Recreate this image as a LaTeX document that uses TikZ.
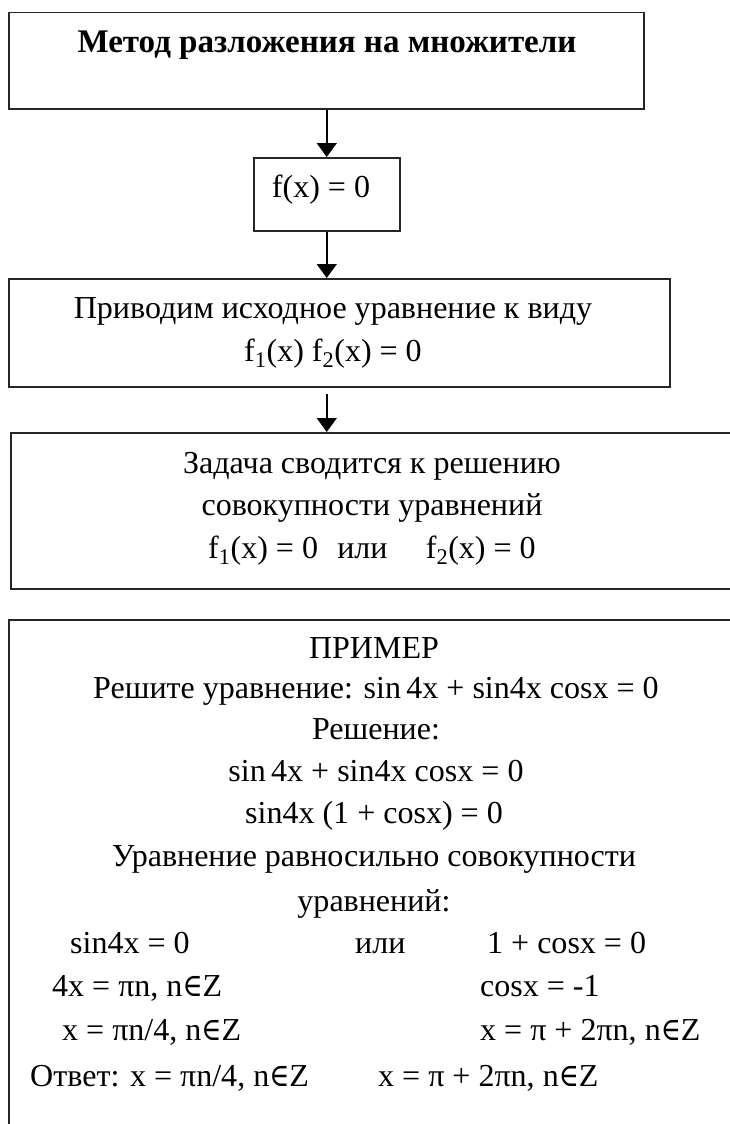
\documentclass[tikz,border=0pt]{standalone}
\usepackage{fontspec}
\setmainfont{Liberation Serif}[FakeStretch=1.001]
\newfontfamily\symf{DejaVu Serif}[FakeStretch=0.85]
\newcommand{\inZ}{{\symf\char"2208}Z}
\usetikzlibrary{arrows.meta}
\begin{document}
\begin{tikzpicture}[x=1pt,y=-1pt,
 box/.style={draw=black!85, line width=1.5pt, inner sep=0, anchor=north west},
 txt/.style={inner sep=0, text height=22pt, text depth=7pt, font=\fontsize{32}{38}\selectfont},
 txtw/.style={txt, anchor=west},
 arr/.style={line width=1.5pt, -{Triangle[width=20pt,length=14pt]}}]
\useasboundingbox (0,0) rectangle (730,1124);
\clip (0,0) rectangle (730,1124);
\fill[white] (0,0) rectangle (730,1124);
% boxes
\node[box, minimum width=635, minimum height=96] (b1) at (8,12) {};
\node[box, minimum width=146, minimum height=73] (b2) at (253,157) {};
\node[box, minimum width=661, minimum height=108] (b3) at (8,278) {};
\node[box, minimum width=740, minimum height=156] (b4) at (10,432) {};
\node[box, minimum width=740, minimum height=530] (b5) at (8,619) {};
% texts
\node[txt, font=\fontsize{33}{38}\selectfont\bfseries] (t1) at (327,45) {Метод разложения на множители};
\node[txt] (t2) at (321,190) {f(x) = 0};
\node[txt] (t3a) at (333,311) {Приводим исходное уравнение к виду};
\node[txt] (t3b) at (333,354) {f\textsubscript{1}(x) f\textsubscript{2}(x) = 0};
\node[txt] (t4a) at (372,466) {Задача сводится к решению};
\node[txt] (t4b) at (372,508) {совокупности уравнений};
\node[txt] (t4c) at (372,551) {f\textsubscript{1}(x) = 0\hspace{0.6em}или\hspace{1.2em}f\textsubscript{2}(x) = 0};
\node[txt] (e1) at (374,651) {ПРИМЕР};
\node[txt] (e2) at (376,691) {Решите уравнение: sin\,4x + sin4x cosx = 0};
\node[txt] (e3) at (376,732) {Решение:};
\node[txt] (e4) at (376,774) {sin\,4x + sin4x cosx = 0};
\node[txt] (e5) at (374,816) {sin4x (1 + cosx) = 0};
\node[txt] (e6) at (374,859) {Уравнение равносильно совокупности};
\node[txt] (e7) at (374,904) {уравнений:};
\node[txtw] (l1) at (70,946) {sin4x = 0};
\node[txtw] (m1) at (355,946) {или};
\node[txtw] (r1) at (487,946) {1 + cosx = 0};
\node[txtw] (l2) at (52,989) {4x = πn, n\inZ};
\node[txtw] (r2) at (480,989) {cosx = -1};
\node[txtw] (l3) at (62,1033) {x = πn/4, n\inZ};
\node[txtw] (r3) at (480,1033) {x = π + 2πn, n\inZ};
\node[txtw] (l4) at (30,1079) {Ответ: x = πn/4, n\inZ};
\node[txtw] (r4) at (378,1079) {x = π + 2πn, n\inZ};
% connectors
\coordinate (c3) at ([yshift=-6pt]b3.south -| b2.south);
\draw[arr] (b1.south -| b2.north) -- (b2.north);
\draw[arr] (b2.south) -- (b3.north -| b2.south);
\draw[arr] (c3) -- (b4.north -| b2.south);
\end{tikzpicture}
\end{document}
